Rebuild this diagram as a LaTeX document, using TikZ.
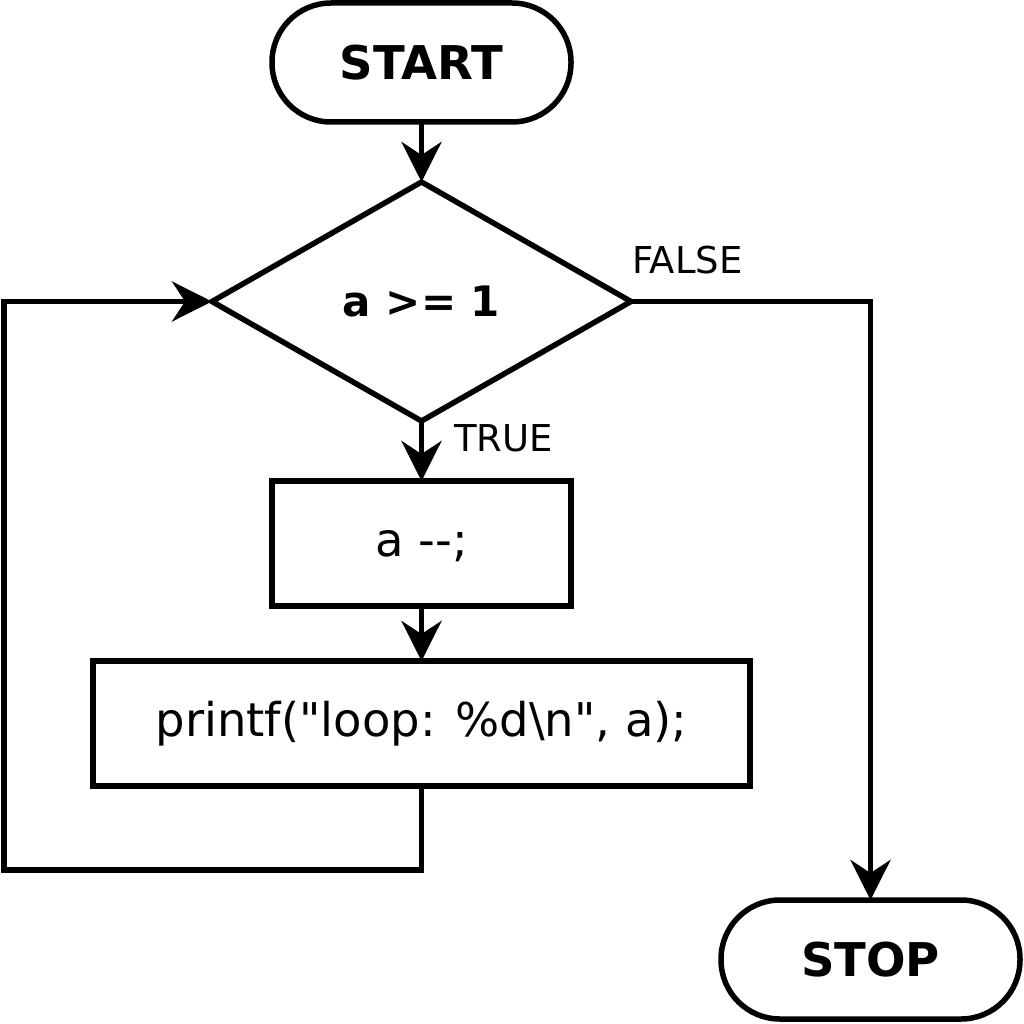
\documentclass[tikz,border=0pt]{standalone}
\usepackage{fontspec}
\setmainfont{DejaVu Sans}
\usetikzlibrary{shapes.geometric,arrows.meta}
\begin{document}
\begin{tikzpicture}[x=1pt,y=-1pt,
  every node/.style={inner sep=0pt,outer sep=0pt},
  box/.style={draw,line width=5.5pt,rectangle,minimum width=299pt,minimum height=125pt,
    font=\fontsize{46.5}{50}\selectfont,text height=35pt,text depth=10pt},
  term/.style={draw,line width=5.5pt,rectangle,rounded corners=59pt,minimum width=299pt,
    minimum height=119pt,font=\fontsize{46.5}{50}\selectfont\bfseries,text height=34pt,text depth=0pt},
  decision/.style={draw,line width=5.5pt,diamond,aspect=1.75,minimum width=419pt,minimum height=239pt,
    font=\fontsize{42}{46}\selectfont\bfseries,text height=30pt,text depth=0pt},
  conn/.style={line width=5.5pt,-{Stealth[length=40pt,width=40pt,inset=13pt]}},
  lbl/.style={font=\fontsize{37}{40}\selectfont,anchor=base west}]
\useasboundingbox (0,0) rectangle (1024,1024);
\node[term] (start) at (421.5,62.5) {START};
\node[decision] (dec) at (421.5,301.5) {a >= 1};
\node[box] (dec1) at (421.5,543.5) {a -{}-;};
\node[box,minimum width=657pt] (pr) at (421.5,723.5) {printf(\textquotedbl loop: \%d\textbackslash n\textquotedbl, a);};
\node[term] (stop) at (870.5,959.5) {STOP};
\coordinate (c1) at (421.5,870);
\coordinate (c2) at (4,870);
\draw[conn] (start) -- (dec.north);
\draw[conn] (dec.south) -- (dec1.north);
\draw[conn] (dec1.south) -- (pr.north);
\draw[conn] (pr.south) -- (c1) -- (c2) |- (dec.west);
\draw[conn] (dec.east) -| (stop.north);
\node[lbl] (lf) at (632,273) {FALSE};
\node[lbl] (lt) at (454,451) {TRUE};
\end{tikzpicture}
\end{document}
